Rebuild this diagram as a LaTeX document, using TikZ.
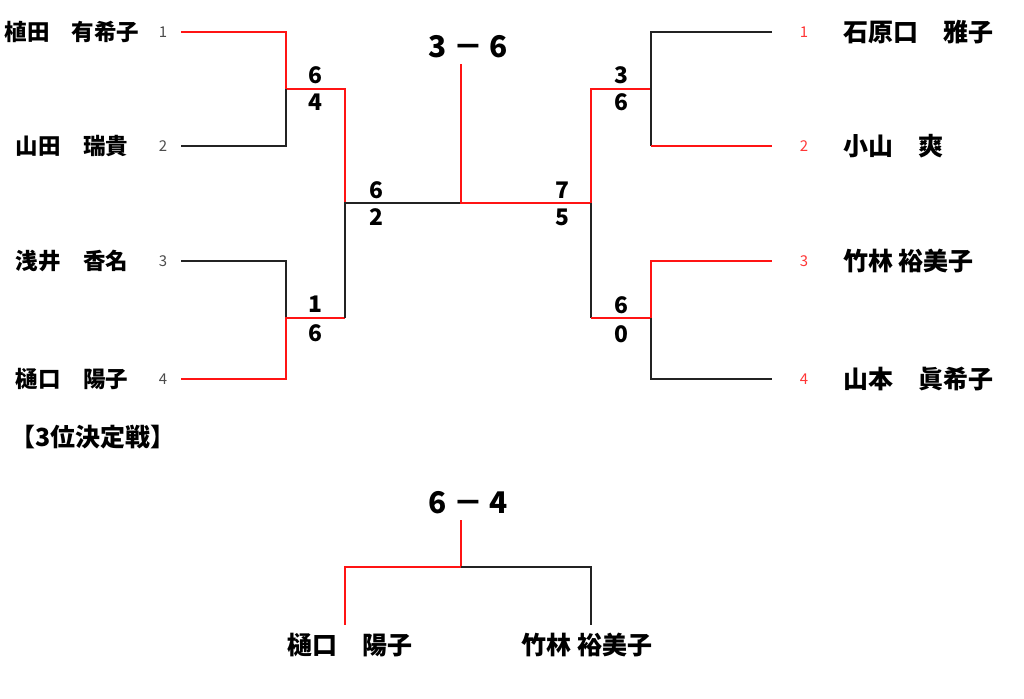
\documentclass[tikz,border=0pt]{standalone}
\usepackage{fontspec}
\usepackage{xcolor}
\usepackage{tikz}
\setmainfont{Noto Sans CJK JP}
\definecolor{winred}{RGB}{255,20,20}
\definecolor{linegray}{RGB}{35,35,35}
\tikzstyle{player} = [font=\bfseries\fontsize{12.8}{14}\selectfont, inner sep=0pt]
\tikzstyle{playerbig} = [font=\bfseries\fontsize{14.2}{16}\selectfont, inner sep=0pt]
\tikzstyle{seed} = [font=\fontsize{8.5}{10}\selectfont, text=black!70, inner sep=0pt]
\tikzstyle{seedred} = [seed, text=winred!85]
\tikzstyle{score} = [font=\bfseries\fontsize{13}{14}\selectfont, inner sep=0pt]
\tikzstyle{final} = [font=\bfseries\fontsize{17}{18}\selectfont, inner sep=0pt]
\tikzstyle{win} = [draw=winred, line width=1.1pt]
\tikzstyle{lose} = [draw=linegray, line width=1.1pt]

\begin{document}
\begin{tikzpicture}[x=0.02cm,y=-0.02cm]
	\useasboundingbox (0,0) rectangle (1024,698);

	% left block
	\node (p1) [player] at (72,32) {植田　有希子};
	\node (p2) [player] at (72,146) {山田　瑞貴};
	\node (p3) [player] at (72,261) {浅井　香名};
	\node (p4) [player] at (72,379) {樋口　陽子};
	\node (n1) [seed] at (163,32) {1};
	\node (n2) [seed] at (163,146) {2};
	\node (n3) [seed] at (163,261) {3};
	\node (n4) [seed] at (163,379) {4};

	% right block
	\node (q1) [playerbig,anchor=west] at (843,32) {石原口　雅子};
	\node (q2) [playerbig,anchor=west] at (843,146) {小山　爽};
	\node (q3) [playerbig,anchor=west] at (843,261) {竹林 裕美子};
	\node (q4) [playerbig,anchor=west] at (843,379) {山本　眞希子};
	\node (k1) [seedred] at (804,32) {1};
	\node (k2) [seedred] at (804,146) {2};
	\node (k3) [seedred] at (804,261) {3};
	\node (k4) [seedred] at (804,379) {4};

	\coordinate (l1) at (181,32);  \coordinate (a1) at (286,32);
	\coordinate (l2) at (181,146); \coordinate (a2) at (286,146);
	\coordinate (l3) at (181,261); \coordinate (a3) at (286,261);
	\coordinate (l4) at (181,379); \coordinate (a4) at (286,379);
	\coordinate (m1) at (286,89);  \coordinate (u1) at (345,89);
	\coordinate (m2) at (286,318); \coordinate (u2) at (345,318);
	\coordinate (semiL) at (345,203);
	\coordinate (mid) at (461,203);
	\coordinate (top) at (461,64);
	\coordinate (semiR) at (591,203);
	\coordinate (v1) at (591,89);  \coordinate (j1) at (651,89);
	\coordinate (v2) at (591,318); \coordinate (j2) at (651,318);
	\coordinate (b1) at (651,32);  \coordinate (r1) at (772,32);
	\coordinate (b2) at (651,146); \coordinate (r2) at (772,146);
	\coordinate (b3) at (651,261); \coordinate (r3) at (772,261);
	\coordinate (b4) at (651,379); \coordinate (r4) at (772,379);

	\draw [win] (l1) -- (a1) -- (m1) -- (u1) -- (semiL);
	\draw [lose] (l2) -- (a2) -- (m1);
	\draw [lose] (l3) -- (a3) -- (m2);
	\draw [win] (l4) -- (a4) -- (m2) -- (u2);
	\draw [lose] (u2) -- (semiL) -- (mid);
	\draw [win] (top) -- (mid) -- (semiR) -- (v1) -- (j1);
	\draw [lose] (r1) -- (b1) -- (b2);
	\draw [win] (b2) -- (r2);
	\draw [lose] (semiR) -- (v2);
	\draw [win] (v2) -- (j2) -- (b3) -- (r3);
	\draw [lose] (j2) -- (b4) -- (r4);

	% scores
	\node (s1a) [score] at (315,75) {6};
	\node (s1b) [score] at (315,102) {4};
	\node (s2a) [score] at (315,304) {1};
	\node (s2b) [score] at (315,333) {6};
	\node (s3a) [score] at (376,190) {6};
	\node (s3b) [score] at (376,217) {2};
	\node (s4a) [score] at (562,190) {7};
	\node (s4b) [score] at (562,217) {5};
	\node (s5a) [score] at (621,75) {3};
	\node (s5b) [score] at (621,102) {6};
	\node (s6a) [score] at (621,305) {6};
	\node (s6b) [score] at (621,334) {0};
	\node (fin) [final] at (468,47) {3 － 6};

	% third place
	\node (third) [playerbig,anchor=west] at (10,437) {【3位決定戦】};
	\node (fin3) [final] at (468,503) {6 － 4};
	\node (t1) [playerbig] at (350,645) {樋口　陽子};
	\node (t2) [playerbig] at (587,645) {竹林 裕美子};
	\coordinate (top3) at (461,520);
	\coordinate (mid3) at (461,567);
	\coordinate (c1) at (345,567); \coordinate (d1) at (345,625);
	\coordinate (c2) at (591,567); \coordinate (d2) at (591,625);
	\draw [win] (top3) -- (mid3) -- (c1) -- (d1);
	\draw [lose] (mid3) -- (c2) -- (d2);

\end{tikzpicture}
\end{document}
